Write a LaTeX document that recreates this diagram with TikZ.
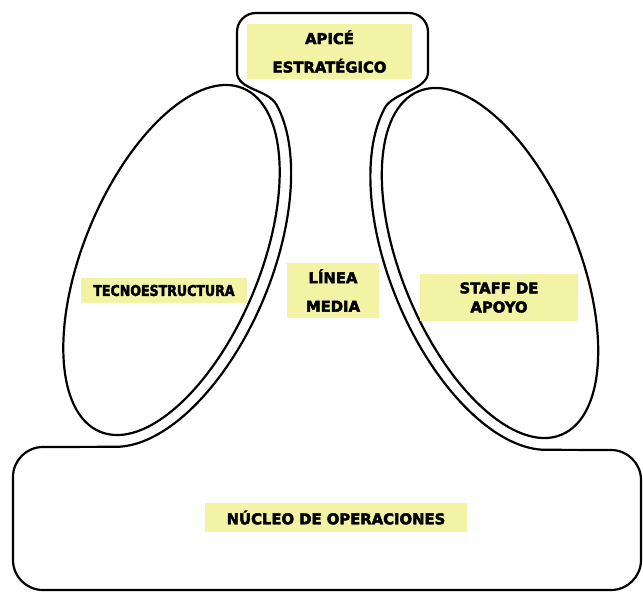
\documentclass[tikz,border=0pt]{standalone}
\usepackage{fontspec}
\setmainfont{DejaVu Sans}[BoldFeatures={FakeBold=3}]
\usepackage{tikz}
\definecolor{paleyellow}{RGB}{243,243,166}

\begin{document}
\begin{tikzpicture}[x=1pt,y=-1pt,outline/.style={line width=2.2pt,line join=round},part node/.style={rectangle,fill=paleyellow,inner sep=0pt,align=center,font=\bfseries\fontsize{14.8}{28.5}\selectfont}]
    \useasboundingbox (0,0) rectangle (643,592);

    % the two lobes
    \draw[outline, rotate around={67.4:(171.5,260)}] (171.5,260) ellipse [x radius=186pt, y radius=88pt];
    \draw[outline, rotate around={-67.4:(490,263)}] (490,263) ellipse [x radius=186pt, y radius=88pt];

    \coordinate (nl) at (276.6,104.9);
    \coordinate (nr) at (384.8,107.9);

    \draw[outline] (nl) .. controls (268,89.1) and (237,90) .. (237,72)
        -- (237,32) .. controls (237,21.4) and (245.4,13) .. (256,13)
        -- (409,13) .. controls (419.6,13) and (428,21.4) .. (428,32)
        -- (428,72) .. controls (428,90) and (393.4,92.1) .. (nr)
        -- plot[domain=22:168.1, samples=70, variable=\t] ({490-76.1*cos(\t)-92.32*sin(\t)},{263-182.8*cos(\t)+38.43*sin(\t)})
        -- (611,450) .. controls (627.6,450) and (641,463.4) .. (641,480)
        -- (641,560) .. controls (641,576.6) and (627.6,590) .. (611,590)
        -- (43,590) .. controls (26.4,590) and (13,576.6) .. (13,560)
        -- (13,477) .. controls (13,460.4) and (26.4,447) .. (43,447)
        -- plot[domain=168.1:22, samples=70, variable=\t] ({171.5+76.1*cos(\t)+92.32*sin(\t)},{260-182.8*cos(\t)+38.43*sin(\t)})
        -- cycle;

    \node[part node, minimum width=165pt, minimum height=55pt] (apice) at (329.5,51.5) {APICÉ\\ESTRATÉGICO};
    \node[part node, minimum width=166pt, minimum height=25pt] (tecno) at (164,290.5) {\scalebox{0.85}[1]{TECNOESTRUCTURA}};
    \node[part node, minimum width=92pt, minimum height=55pt] (linea) at (333,290.5) {LÍNEA\\MEDIA};
    \node[part node, minimum width=158pt, minimum height=47pt, font=\bfseries\fontsize{14.8}{19}\selectfont] (staff) at (499,297.5) {STAFF DE\\APOYO};
    \node[part node, minimum width=262pt, minimum height=29pt] (nucleo) at (336,517.5) {NÚCLEO DE OPERACIONES};
\end{tikzpicture}
\end{document}
